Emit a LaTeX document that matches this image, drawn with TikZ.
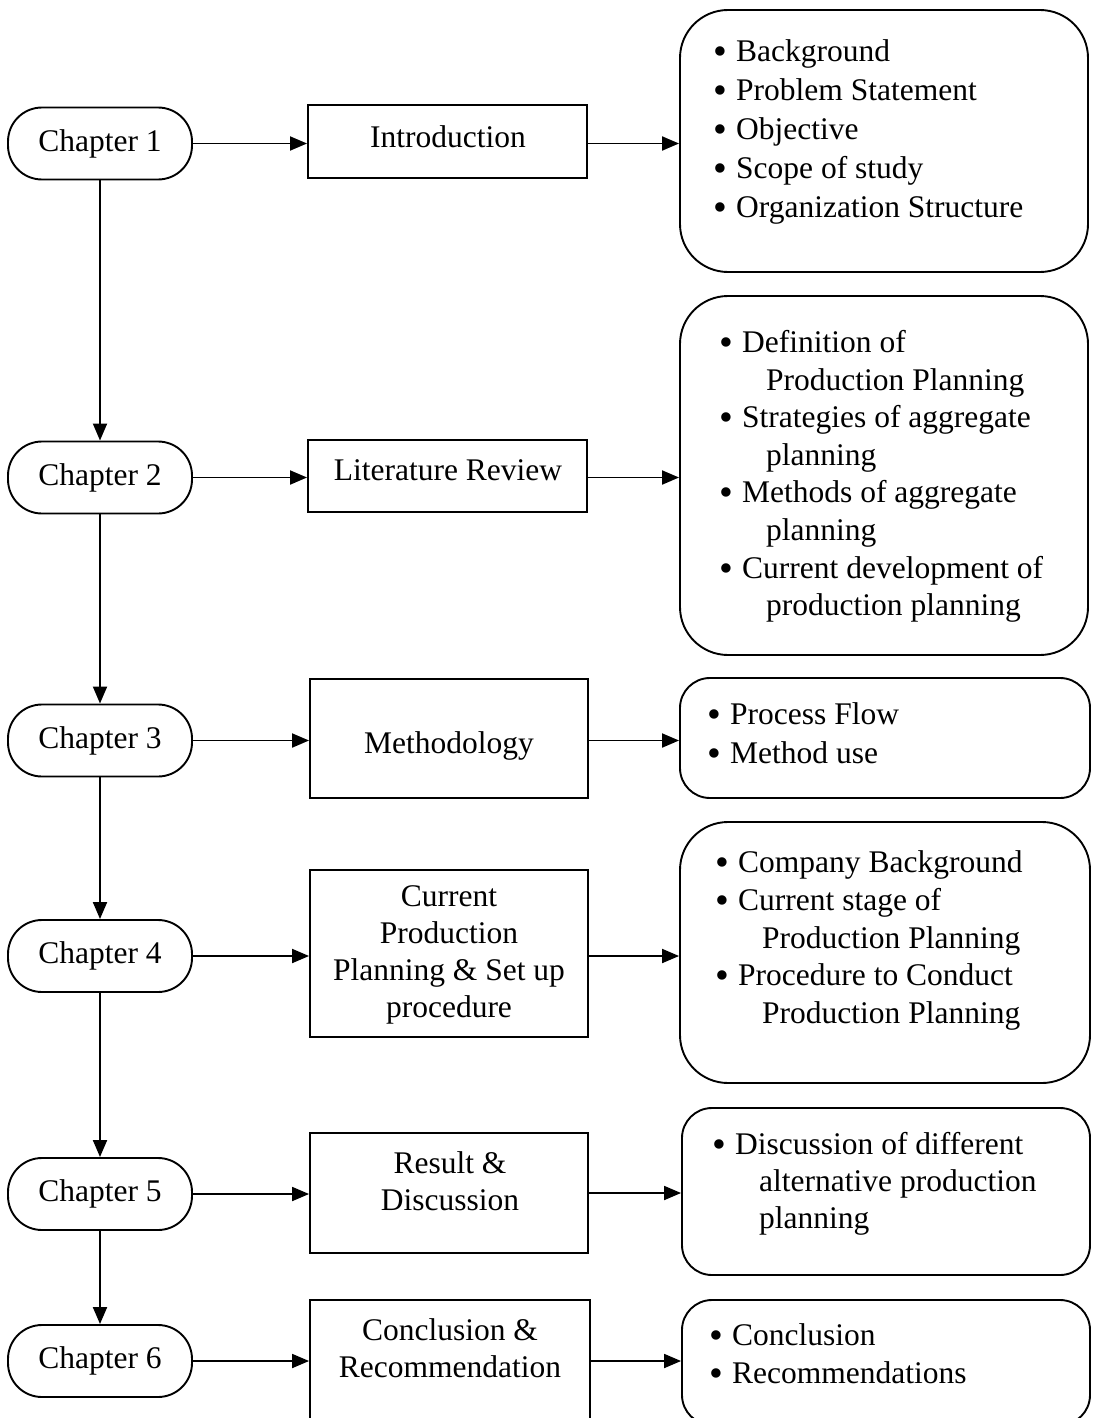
\documentclass[tikz,border=0pt]{standalone}
\usepackage{fontspec}
\setmainfont{Liberation Serif}
\usetikzlibrary{arrows.meta}
\newcommand{\bl}[1]{\makebox[23pt][l]{\raisebox{-3pt}{\scalebox{1.25}{\textbullet}}}#1}
\newcommand{\ct}[1]{\hspace*{47pt}#1}
\begin{document}
\begin{tikzpicture}[x=1pt,y=-1pt,
  chap/.style={draw, line width=1.9pt, rounded corners=34pt, minimum width=184pt, minimum height=72pt, inner sep=0pt, font=\fontsize{31.5}{38}\selectfont},
  mid/.style={draw, line width=1.9pt, inner sep=0pt},
  side/.style={draw, line width=1.9pt, rounded corners=48pt, inner sep=0pt},
  sidesm/.style={draw, line width=1.9pt, rounded corners=30pt, inner sep=0pt},
  mtxt/.style={font=\fontsize{31.5}{37}\selectfont, align=center, inner sep=0pt},
  rtxt/.style={font=\fontsize{31.5}{38}\selectfont, align=left, inner sep=0pt, anchor=west},
  arr/.style={line width=1.9pt, -{Triangle[length=17pt,width=14pt]}}]
\path[use as bounding box, clip] (0,0) rectangle (1092,1418);

% chapter ovals
\node[chap] (c1) at (100,143.5) {Chapter 1};
\node[chap] (c2) at (100,477.5) {Chapter 2};
\node[chap] (c3) at (100,740.5) {Chapter 3};
\node[chap] (c4) at (100,956) {Chapter 4};
\node[chap] (c5) at (100,1194) {Chapter 5};
\node[chap] (c6) at (100,1361) {Chapter 6};

% middle boxes
\node[mid, minimum width=279pt, minimum height=73pt] (i1) at (447.5,141.5) {};
\node[mid, minimum width=279pt, minimum height=72pt] (i2) at (447.5,476) {};
\node[mid, minimum width=278pt, minimum height=119pt] (i3) at (449,738.5) {};
\node[mid, minimum width=278pt, minimum height=167pt] (i4) at (449,953.5) {};
\node[mid, minimum width=278pt, minimum height=120pt] (i5) at (449,1193) {};
\node[mid, minimum width=280pt, minimum height=125pt] (i6) at (450,1362.5) {};

\node[mtxt] (t1) at (448,137) {Introduction};
\node[mtxt] (t2) at (448,470) {Literature Review};
\node[mtxt] (t3) at (449,746) {Methodology};
\node[mtxt] (t4) at (449,955) {Current\\Production\\Planning \& Set up\\procedure};
\node[mtxt] (t5) at (450,1181) {Result \&\\Discussion};
\node[mtxt] (t6) at (450,1348) {Conclusion \&\\Recommendation};

% right boxes
\node[side, minimum width=408pt, minimum height=262pt] (r1) at (884,141) {};
\node[side, minimum width=408pt, minimum height=359pt] (r2) at (884,475.5) {};
\node[sidesm, minimum width=410pt, minimum height=120pt] (r3) at (885,738) {};
\node[side, minimum width=410pt, minimum height=261pt] (r4) at (885,952.5) {};
\node[sidesm, minimum width=408pt, minimum height=167pt] (r5) at (886,1191.5) {};
\node[sidesm, minimum width=408pt, minimum height=125pt] (r6) at (886,1362.5) {};

\node[rtxt, font=\fontsize{31.5}{39}\selectfont] (l1) at (713,132) {\bl{Background}\\\bl{Problem Statement}\\\bl{Objective}\\\bl{Scope of study}\\\bl{Organization Structure}};
\node[rtxt, font=\fontsize{31.5}{37.6}\selectfont] (l2) at (719,476.5) {\bl{Definition of}\\\ct{Production Planning}\\\bl{Strategies of aggregate}\\\ct{planning}\\\bl{Methods of aggregate}\\\ct{planning}\\\bl{Current development of}\\\ct{production planning}};
\node[rtxt, font=\fontsize{31.5}{39}\selectfont] (l3) at (707,734.5) {\bl{Process Flow}\\\bl{Method use}};
\node[rtxt, font=\fontsize{31.5}{37.8}\selectfont] (l4) at (715,940.5) {\bl{Company Background}\\\bl{Current stage of}\\\ct{Production Planning}\\\bl{Procedure to Conduct}\\\ct{Production Planning}};
\node[rtxt, font=\fontsize{31.5}{37}\selectfont] (l5) at (712,1184) {\bl{Discussion of different}\\\ct{alternative production}\\\ct{planning}};
\node[rtxt, font=\fontsize{31.5}{38}\selectfont] (l6) at (709,1355) {\bl{Conclusion}\\\bl{Recommendations}};

% vertical arrows
\draw[arr] (c1.south) -- (c2.north);
\draw[arr] (c2.south) -- (c3.north);
\draw[arr] (c3.south) -- (c4.north);
\draw[arr] (c4.south) -- (c5.north);
\draw[arr] (c5.south) -- (c6.north);

% chapter -> middle
\draw[arr] (c1.east) -- (c1.east -| i1.west);
\draw[arr] (c2.east) -- (c2.east -| i2.west);
\draw[arr] (c3.east) -- (c3.east -| i3.west);
\draw[arr] (c4.east) -- (c4.east -| i4.west);
\draw[arr] (c5.east) -- (c5.east -| i5.west);
\draw[arr] (c6.east) -- (c6.east -| i6.west);

% middle -> right
\draw[arr] (c1.east -| i1.east) -- (c1.east -| r1.west);
\draw[arr] (c2.east -| i2.east) -- (c2.east -| r2.west);
\draw[arr] (c3.east -| i3.east) -- (c3.east -| r3.west);
\draw[arr] (c4.east -| i4.east) -- (c4.east -| r4.west);
\draw[arr] (i5.east) -- (i5.east -| r5.west);
\draw[arr] (c6.east -| i6.east) -- (c6.east -| r6.west);
\end{tikzpicture}
\end{document}
